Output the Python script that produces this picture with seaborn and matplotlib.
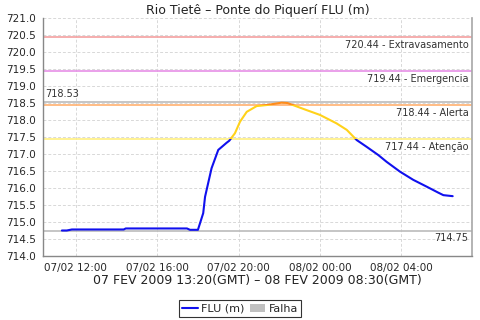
import numpy as np
import pandas as pd
import matplotlib
matplotlib.use("Agg")
import matplotlib.pyplot as plt
import matplotlib.dates as mdates
from matplotlib.patches import Rectangle
from matplotlib.lines import Line2D
from matplotlib.patches import Patch
import seaborn as sns

# ---- data (hours since 07/02/2009 00:00 local) ----
hours = [11.31, 11.55, 11.80, 12.5, 13.5, 14.35, 14.45, 15.5, 16.5, 17.46, 17.61, 18.0,
         18.26, 18.35, 18.67, 19.0, 19.41, 19.54, 19.82, 20.07, 20.40, 20.89, 21.38,
         21.8, 22.12, 22.4, 22.67, 23.35, 24.0, 24.82, 25.32, 25.81, 26.30, 26.87,
         27.28, 27.94, 28.59, 29.25, 29.8, 30.07, 30.53]
levels = [714.75, 714.75, 714.78, 714.78, 714.78, 714.78, 714.81, 714.81, 714.81, 714.81, 714.77, 714.77,
          715.26, 715.74, 716.58, 717.12, 717.33, 717.39, 717.61, 717.95, 718.24, 718.41, 718.44,
          718.48, 718.51, 718.50, 718.44, 718.29, 718.15, 717.90, 717.71, 717.41, 717.21, 716.97,
          716.77, 716.48, 716.24, 716.04, 715.87, 715.79, 715.76]

ref_values = [720.44, 719.44, 718.44, 717.44]
ref_names = ["Extravasamento", "Emergencia", "Alerta", "Atenção"]
ref_colors = ["#f4a0a0", "#e690e6", "#ffb070", "#fff080"]
max_value = 718.53
min_value = 714.75

title = "Rio Tietê – Ponte do Piquerí FLU (m)"
xlabel = "07 FEV 2009 13:20(GMT) – 08 FEV 2009 08:30(GMT)"

base = pd.Timestamp("2009-02-07 00:00")
df = pd.DataFrame({"time": [base + pd.Timedelta(hours=h) for h in hours], "level": levels})

sns.set_theme(style="white")
plt.rcParams["font.family"] = ["DejaVu Sans"]

fig = plt.figure(figsize=(4.8, 3.2), dpi=100)
ax = fig.add_axes([43/480, 1-256/320, (472-43)/480, (256-18)/320])

x0 = base + pd.Timedelta(hours=10.38)
x1 = base + pd.Timedelta(hours=31.48)
ax.set_xlim(x0, x1)
ax.set_ylim(714.0, 721.0)

# grid
ax.set_yticks(np.arange(714.0, 721.01, 0.5))
ax.set_yticklabels([f"{v:.1f}" for v in np.arange(714.0, 721.01, 0.5)], fontsize=7.5)
ax.xaxis.set_major_locator(mdates.HourLocator(byhour=[0, 4, 8, 12, 16, 20]))
ax.xaxis.set_major_formatter(mdates.DateFormatter("%d/%m %H:%M"))
ax.tick_params(axis="x", labelsize=7.5, length=3, pad=2)
ax.tick_params(axis="y", length=3, pad=2)
ax.grid(True, color="#d8d8d8", linestyle=(0, (3, 2)), linewidth=0.7)

# reference lines
for v, n, c in zip(ref_values, ref_names, ref_colors):
    ax.axhline(v, color=c, lw=1.2, zorder=2)
    ax.text(0.992, v - 0.08, f"{v:.2f} - {n}", transform=ax.get_yaxis_transform(),
            ha="right", va="top", fontsize=7, color="#333333")
ax.axhline(max_value, color="#bbbbbb", lw=1.2, zorder=2)
ax.text(0.006, max_value + 0.08, f"{max_value:.2f}", transform=ax.get_yaxis_transform(),
        ha="left", va="bottom", fontsize=7, color="#333333")
ax.axhline(min_value, color="#bbbbbb", lw=1.2, zorder=2)
ax.text(0.992, min_value - 0.08, f"{min_value:.2f}", transform=ax.get_yaxis_transform(),
        ha="right", va="top", fontsize=7, color="#333333")

# data line, colored by band
bands = [(700, 717.44, "#1010ee"), (717.44, 718.44, "#ffd21a"), (718.44, 730, "#ff8c1a")]
for lo, hi, col in bands:
    sns.lineplot(data=df, x="time", y="level", ax=ax, color=col, lw=1.5, zorder=4)
    line = ax.lines[-1]
    clip = Rectangle((mdates.date2num(x0), lo), mdates.date2num(x1) - mdates.date2num(x0), hi - lo,
                     transform=ax.transData, fill=False)
    line.set_clip_path(clip)

ax.set_ylabel("")
ax.set_xlabel(xlabel, fontsize=9, labelpad=1, color="#222222")
ax.set_title(title, fontsize=9, pad=3, color="#222222")

for s in ["left", "bottom"]:
    ax.spines[s].set_color("#888888")
    ax.spines[s].set_linewidth(1.0)
ax.spines["right"].set_color("#aaaaaa")
ax.spines["top"].set_visible(False)

handles = [Line2D([0], [0], color="#1010ee", lw=1.5),
           Patch(facecolor="#c0c0c0", edgecolor="none")]
leg = fig.legend(handles, ["FLU (m)", "Falha"], loc="lower center", bbox_to_anchor=(0.5, -0.008),
                 ncol=2, fontsize=8, frameon=True, fancybox=False, handlelength=1.4,
                 handletextpad=0.3, columnspacing=0.5, borderpad=0.3)
leg.get_frame().set_edgecolor("black")
leg.get_frame().set_linewidth(0.8)

fig.savefig("out.png", dpi=100)
